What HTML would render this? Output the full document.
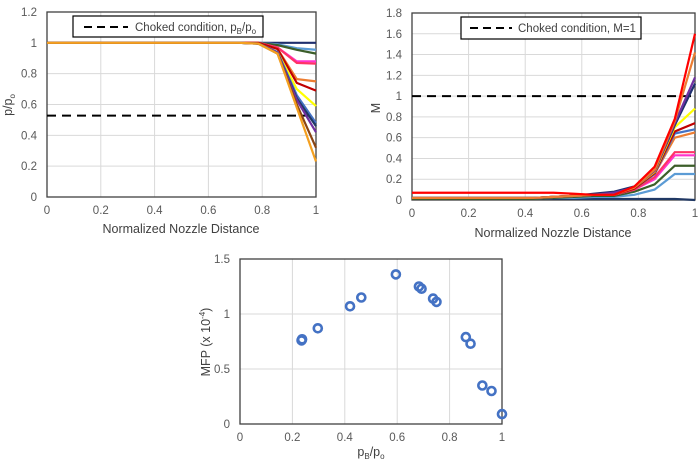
<!DOCTYPE html>
<html><head><meta charset="utf-8"><style>
body{margin:0;background:#fff;width:700px;height:462px;overflow:hidden}
svg{font-family:"Liberation Sans",sans-serif;}
</style></head><body>
<svg id="s" width="700" height="462"></svg>
<script>
const xPts=[0,1/14,2/14,3/14,4/14,5/14,6/14,7/14,8/14,9/14,10/14,11/14,12/14,13/14,1];
const pColors=["#1f2f6e","#5b9bd5","#3c5e2a","#ff33cc","#ff3366","#ed7d31","#c00000","#ffff00","#4472c4","#203864","#7030a0","#8b4513","#f4a020"];
const pTail=[[1,1,1,1],[1,0.99,0.965,0.955],[1,0.985,0.955,0.93],[1,0.97,0.88,0.88],[1,0.97,0.87,0.865],[1,0.96,0.765,0.75],[1,0.96,0.74,0.69],[0.995,0.94,0.7,0.59],[0.995,0.94,0.66,0.48],[0.995,0.935,0.64,0.46],[0.995,0.935,0.63,0.42],[0.995,0.93,0.6,0.32],[0.995,0.93,0.58,0.23]];
const mColors=["#ff0000","#ed7d31","#7030a0","#1f2f6e","#ffff00","#c00000","#4472c4","#ed7d31","#ff3366","#ff33cc","#3c5e2a","#5b9bd5","#203864"];
const mStart=[0.07,0.02,0.02,0.02,0.02,0.02,0.02,0.02,0.02,0.02,0.01,0.01,0.01];
const mMid=[[0.07,0.06,0.05],[0.03,0.04,0.05],[0.03,0.04,0.05],[0.03,0.04,0.06],[0.03,0.04,0.05],[0.03,0.04,0.05],[0.03,0.04,0.05],[0.03,0.04,0.05],[0.03,0.04,0.05],[0.03,0.04,0.05],[0.02,0.03,0.04],[0.02,0.02,0.03],[0.01,0.01,0.01]];
const mTail=[[0.05,0.13,0.32,0.78,1.6],[0.05,0.12,0.29,0.76,1.42],[0.07,0.12,0.28,0.74,1.18],[0.08,0.13,0.28,0.72,1.12],[0.06,0.12,0.27,0.7,0.88],[0.05,0.11,0.26,0.66,0.74],[0.05,0.11,0.25,0.64,0.68],[0.05,0.11,0.25,0.6,0.65],[0.05,0.1,0.22,0.46,0.46],[0.05,0.1,0.2,0.43,0.43],[0.04,0.08,0.15,0.33,0.33],[0.03,0.05,0.1,0.25,0.25],[0.01,0.01,0.01,0.01,0.0]];
const pbX=[0.235,0.237,0.297,0.42,0.463,0.595,0.683,0.693,0.737,0.75,0.862,0.88,0.925,0.96,1.0];
const mfpY=[0.76,0.77,0.87,1.07,1.15,1.36,1.25,1.23,1.14,1.11,0.79,0.73,0.35,0.30,0.09];
const xTicks=["0","0.2","0.4","0.6","0.8","1"];
const pTicks=["0","0.2","0.4","0.6","0.8","1","1.2"];
const mTicks=["0","0.2","0.4","0.6","0.8","1","1.2","1.4","1.6","1.8"];
const fTicks=["0","0.5","1","1.5"];

const S=document.getElementById('s');const NS="http://www.w3.org/2000/svg";
function mk(t,a,txt){const e=document.createElementNS(NS,t);for(const k in a)e.setAttribute(k,a[k]);if(txt!==undefined)e.textContent=txt;S.appendChild(e);return e;}
function axes(X0,X1,Y0,Y1,ymax,yt,xt,name){
 const sx=v=>X0+v*(X1-X0), sy=v=>Y0-(v/ymax)*(Y0-Y1);
 xt.forEach(t=>{const e=mk('line',{x1:sx(+t),x2:sx(+t),y1:Y1,y2:Y0,stroke:'#d9d9d9'});
  const l=mk('text',{x:sx(+t),y:Y0+17,'font-size':11.5,fill:'#595959','text-anchor':'middle'},t);});
 yt.forEach(t=>{const e=mk('line',{x1:X0,x2:X1,y1:sy(+t),y2:sy(+t),stroke:'#d9d9d9'});
  const l=mk('text',{x:X0-10,y:sy(+t)+4,'font-size':11.5,fill:'#595959','text-anchor':'end'},t);});
 const b=mk('rect',{x:X0,y:Y1,width:X1-X0,height:Y0-Y1,fill:'none',stroke:'#404040','stroke-width':1.3});
 return [sx,sy];
}
// chart 1
let [sx,sy]=axes(47,316,197,12,1.2,pTicks,xTicks,'pressure-chart');
let e=mk('line',{x1:47,x2:316,y1:sy(0.528),y2:sy(0.528),stroke:'#000','stroke-width':2,'stroke-dasharray':'9,6'});

pTail.forEach((tail,i)=>{const v=xPts.map((x,j)=>j<11?1:tail[j-11]);
 const p=mk('polyline',{points:xPts.map((x,j)=>sx(x)+','+sy(v[j])).join(' '),fill:'none',stroke:pColors[i],'stroke-width':2.2});
 });
e=mk('text',{x:12,y:105,'font-size':12.5,fill:'#404040','text-anchor':'middle',transform:'rotate(-90 12 105)'});
e.innerHTML='p/p<tspan font-size="8" dy="3">o</tspan>';
e=mk('text',{x:181,y:233,'font-size':12.5,fill:'#404040','text-anchor':'middle'},'Normalized Nozzle Distance');
e=mk('rect',{x:73,y:16,width:190,height:21,fill:'#fff',stroke:'#000','stroke-width':1.2});
mk('line',{x1:84,x2:128,y1:27,y2:27,stroke:'#000','stroke-width':2,'stroke-dasharray':'8,5'});
e=mk('text',{x:135,y:31,'font-size':11.5,fill:'#404040'});
e.innerHTML='Choked condition, p<tspan font-size="8" dy="3">B</tspan><tspan dy="-3">/p</tspan><tspan font-size="8" dy="3">o</tspan>';
// chart 2
[sx,sy]=axes(412,695,200,13,1.8,mTicks,xTicks,'mach-chart');
e=mk('line',{x1:412,x2:695,y1:sy(1),y2:sy(1),stroke:'#000','stroke-width':2,'stroke-dasharray':'9,6'});

mTail.slice().reverse().forEach((tail,ri)=>{const i=mTail.length-1-ri;const v=xPts.map((x,j)=>j<7?mStart[i]:(j<10?mMid[i][j-7]:tail[j-10]));
 const p=mk('polyline',{points:xPts.map((x,j)=>sx(x)+','+sy(v[j])).join(' '),fill:'none',stroke:mColors[i],'stroke-width':2.2});
 });
e=mk('text',{x:380,y:108,'font-size':12.5,fill:'#404040','text-anchor':'middle',transform:'rotate(-90 380 108)'},'M');
e=mk('text',{x:553,y:237,'font-size':12.5,fill:'#404040','text-anchor':'middle'},'Normalized Nozzle Distance');
e=mk('rect',{x:461,y:17,width:180,height:22,fill:'#fff',stroke:'#000','stroke-width':1.2});
mk('line',{x1:470,x2:512,y1:28,y2:28,stroke:'#000','stroke-width':2,'stroke-dasharray':'8,5'});
e=mk('text',{x:518,y:32,'font-size':11.5,fill:'#404040'},'Choked condition, M=1');
// chart 3
[sx,sy]=axes(240,502,424,259,1.5,fTicks,xTicks,'mfp-chart');
pbX.forEach((x,i)=>{const c=mk('circle',{cx:sx(x),cy:sy(mfpY[i]),r:4,fill:'none',stroke:'#4472c4','stroke-width':2.6});
 });
e=mk('text',{x:210,y:342,'font-size':12.5,fill:'#404040','text-anchor':'middle',transform:'rotate(-90 210 342)'});
e.innerHTML='MFP (x 10<tspan font-size="8" dy="-5">-4</tspan><tspan dy="5">)</tspan>';
e=mk('text',{x:371,y:456,'font-size':12.5,fill:'#404040','text-anchor':'middle'});
e.innerHTML='p<tspan font-size="8" dy="3">B</tspan><tspan dy="-3">/p</tspan><tspan font-size="8" dy="3">o</tspan>';
</script></body></html>
